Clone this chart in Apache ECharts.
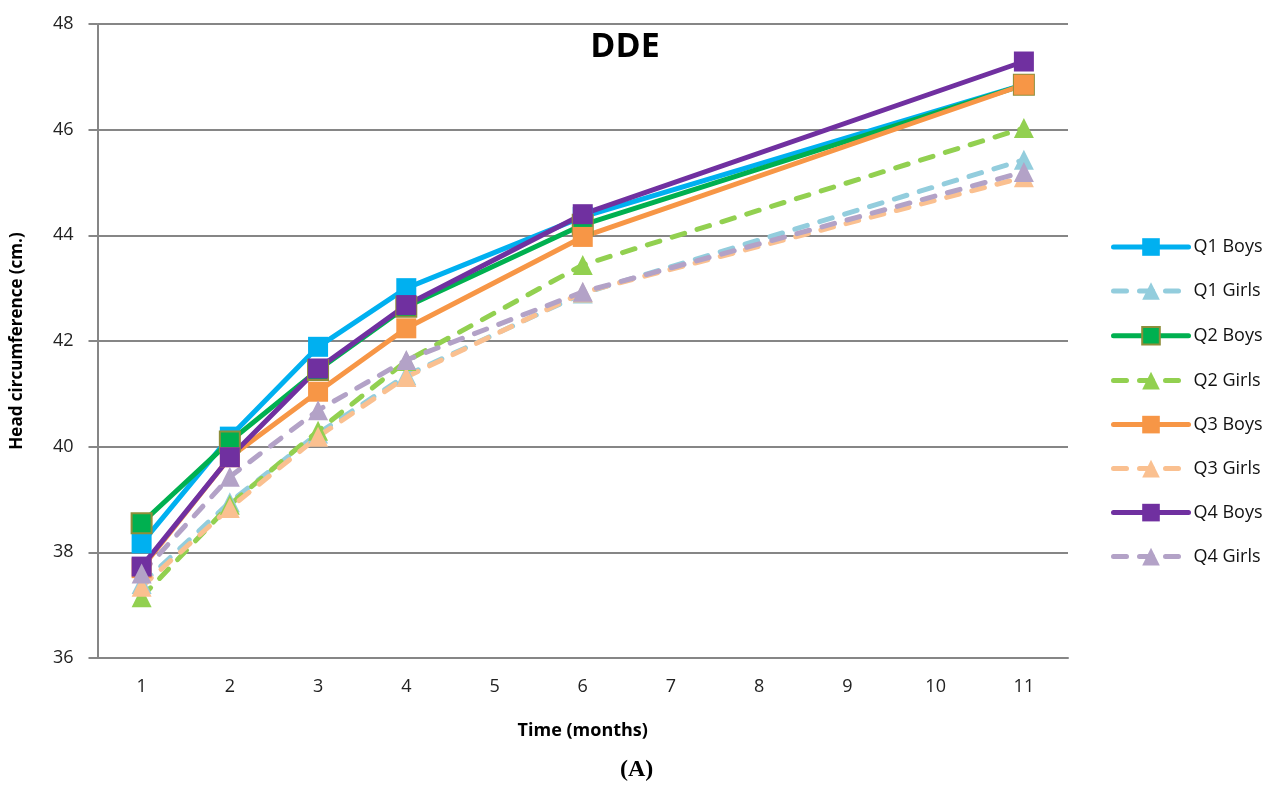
<!DOCTYPE html>
<html><head><meta charset="utf-8">
<script src="https://cdn.jsdelivr.net/npm/echarts@6/dist/echarts.min.js"></script>
<style>html,body{margin:0;padding:0;background:#fff}#c{width:1280px;height:794px}</style>
</head><body><div id="c"></div>
<script>
const months = ['1','2','3','4','5','6','7','8','9','10','11'];
const q1Boys  = [38.17, 40.19, 41.89, 43.00, null, 44.35, null, null, null, null, 46.85];
const q1Girls = [37.40, 38.95, 40.25, 41.35, null, 42.90, null, null, null, null, 45.43];
const q2Boys  = [38.55, 40.10, 41.45, 42.65, null, 44.20, null, null, null, null, 46.85];
const q2Girls = [37.15, 38.90, 40.30, 41.62, null, 43.44, null, null, null, null, 46.03];
const q3Boys  = [37.70, 39.80, 41.04, 42.24, null, 43.97, null, null, null, null, 46.85];
const q3Girls = [37.35, 38.84, 40.19, 41.32, null, 42.92, null, null, null, null, 45.10];
const q4Boys  = [37.73, 39.80, 41.48, 42.68, null, 44.40, null, null, null, null, 47.29];
const q4Girls = [37.60, 39.43, 40.69, 41.64, null, 42.93, null, null, null, null, 45.20];
const yTicks = [36, 38, 40, 42, 44, 46, 48];

function mk(name, data, color, sym, dashed, border) {
  return {
    name, type: 'line', data, connectNulls: true,
    symbol: sym === 'sq' ? 'rect' : 'triangle',
    symbolSize: 20,
    lineStyle: {color, width: 5, type: dashed ? [13, 13] : 'solid', cap: 'round'},
    itemStyle: {color, borderColor: border || color, borderWidth: border ? 2 : 0},
    emphasis: {disabled: true}
  };
}
const chart = echarts.init(document.getElementById('c'), null, {renderer: 'canvas'});
chart.setOption({
  animation: false,
  title: {text: 'DDE', left: 620, top: 25, textAlign: 'center',
    textStyle: {fontFamily: 'Open Sans', fontWeight: 'bold', fontSize: 34, color: '#000'}},
  grid: {left: 97.5, right: 212, top: 24, bottom: 136},
  legend: {
    orient: 'vertical', left: 1106, top: 233, itemWidth: 75, itemHeight: 22, itemGap: 26,
    lineStyle: {width: 5},
    textStyle: {fontFamily: 'Open Sans', fontSize: 18, color: '#111'},
    data: ['Q1 Boys','Q1 Girls','Q2 Boys','Q2 Girls','Q3 Boys','Q3 Girls','Q4 Boys','Q4 Girls']
  },
  xAxis: {
    type: 'category', data: months, boundaryGap: true,
    name: 'Time (months)', nameLocation: 'middle', nameGap: 64,
    nameTextStyle: {fontFamily: 'Open Sans', fontWeight: 'bold', fontSize: 18, color: '#000'},
    axisLine: {lineStyle: {color: '#868686', width: 2}},
    axisTick: {length: 9, lineStyle: {color: '#868686', width: 2}},
    axisLabel: {fontFamily: 'Open Sans', fontSize: 18, color: '#222', margin: 20}
  },
  yAxis: {
    type: 'value', min: yTicks[0], max: yTicks[yTicks.length-1], interval: 2,
    name: 'Head circumference (cm.)', nameLocation: 'middle', nameGap: 72,
    nameTextStyle: {fontFamily: 'Open Sans', fontWeight: 'bold', fontSize: 17, color: '#000'},
    axisLine: {show: true, lineStyle: {color: '#868686', width: 2}},
    axisTick: {show: true, inside: false, length: 9, lineStyle: {color: '#868686', width: 2}},
    splitLine: {lineStyle: {color: '#868686', width: 2}},
    axisLabel: {fontFamily: 'Open Sans', fontSize: 18, color: '#222', margin: 24}
  },
  graphic: [{type: 'text', left: 620, top: 758,
    style: {text: '(A)', font: 'bold 24px "Liberation Serif", serif', fill: '#000', textAlign: 'center'}}],
  series: [
    mk('Q1 Boys', q1Boys, '#00B0F0', 'sq', false),
    mk('Q1 Girls', q1Girls, '#93CDDD', 'tri', true),
    mk('Q2 Boys', q2Boys, '#00B050', 'sq', false, '#8E8E3A'),
    mk('Q2 Girls', q2Girls, '#92D050', 'tri', true),
    mk('Q3 Boys', q3Boys, '#F79646', 'sq', false),
    mk('Q3 Girls', q3Girls, '#FAC090', 'tri', true),
    mk('Q4 Boys', q4Boys, '#7030A0', 'sq', false),
    mk('Q4 Girls', q4Girls, '#B3A2C7', 'tri', true)
  ]
});
</script></body></html>
